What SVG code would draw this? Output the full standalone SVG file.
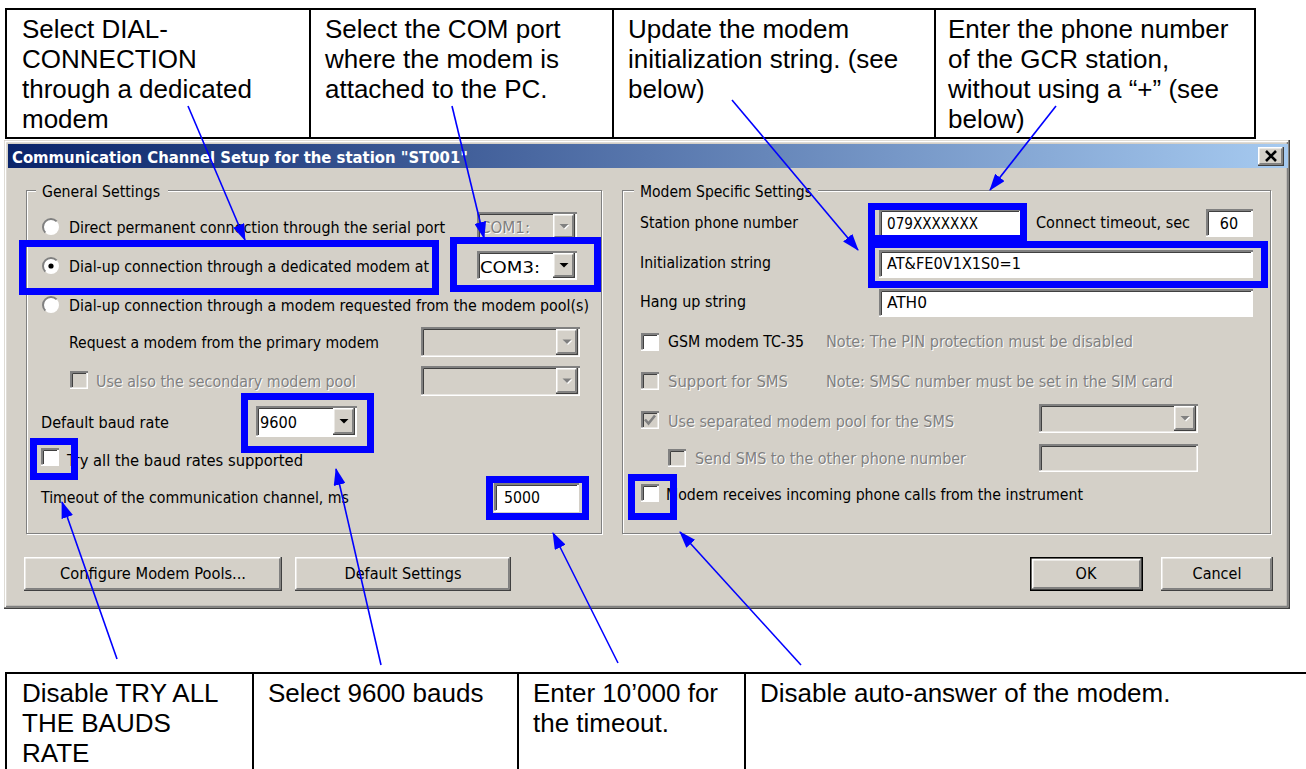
<svg xmlns="http://www.w3.org/2000/svg" width="1306" height="769" viewBox="0 0 1306 769">
  <defs>
    <linearGradient id="titleGrad" x1="0" y1="0" x2="1" y2="0">
      <stop offset="0" stop-color="#0A246A"/>
      <stop offset="1" stop-color="#A6CAF0"/>
    </linearGradient>
    <marker id="ah" markerUnits="userSpaceOnUse" markerWidth="17" markerHeight="12" refX="16" refY="6" orient="auto">
      <path d="M0,0 L17,6 L0,12 z" fill="#0000FF"/>
    </marker>
    <style>
      .ct { font-family: "Liberation Sans", Arial, sans-serif; font-size: 26px; fill: #000; }
      .cell { fill: none; stroke: #000; stroke-width: 2; }
      .ui { font-family: "DejaVu Sans Condensed", "DejaVu Sans", sans-serif; font-size: 16px; fill: #000; }
      .dis { fill: #808080; }
      .emb { fill: #fff; }
      .face { fill: #D4D0C8; }
      .white { fill: #fff; }
      .hl { fill: none; stroke: #fff; stroke-width: 1.5; }
      .sh { fill: none; stroke: #808080; stroke-width: 2; }
      .shb { fill: none; stroke: #808080; stroke-width: 1.5; }
      .dk { fill: none; stroke: #404040; stroke-width: 1.5; }
      .dk1 { fill: none; stroke: #404040; stroke-width: 1; }
      .etchW { fill: none; stroke: #fff; stroke-width: 1; }
      .etchG { fill: none; stroke: #808080; stroke-width: 1; }
      .mark { fill: none; stroke: #0000FF; stroke-width: 7; }
      .conn { fill: none; stroke: #0000FF; stroke-width: 1.6; marker-end: url(#ah); }
    </style>
  </defs>

  <rect x="0" y="0" width="1306" height="769" fill="#fff"/>

  <!-- callouts above the dialog -->
  <g id="note-dial">
    <rect class="cell" x="6" y="9" width="304" height="129"/>
    <text class="ct" x="22" y="37.5">Select DIAL-</text>
    <text class="ct" x="22" y="67.5">CONNECTION</text>
    <text class="ct" x="22" y="97.5">through a dedicated</text>
    <text class="ct" x="22" y="127.5">modem</text>
  </g>
  <g id="note-port">
    <rect class="cell" x="310" y="9" width="303" height="129"/>
    <text class="ct" x="325" y="37.5">Select the COM port</text>
    <text class="ct" x="325" y="67.5">where the modem is</text>
    <text class="ct" x="325" y="97.5">attached to the PC.</text>
  </g>
  <g id="note-init">
    <rect class="cell" x="613" y="9" width="322" height="129"/>
    <text class="ct" x="628" y="37.5">Update the modem</text>
    <text class="ct" x="628" y="67.5">initialization string. (see</text>
    <text class="ct" x="628" y="97.5">below)</text>
  </g>
  <g id="note-phone">
    <rect class="cell" x="935" y="9" width="320" height="129"/>
    <text class="ct" x="948" y="37.5">Enter the phone number</text>
    <text class="ct" x="948" y="67.5">of the GCR station,</text>
    <text class="ct" x="948" y="97.5">without using a “+” (see</text>
    <text class="ct" x="948" y="127.5">below)</text>
  </g>

  <!-- dialog window -->
  <g id="dialog">
    <rect class="face" x="4" y="140" width="1286" height="469"/>
    <path class="hl" d="M5.5,607 V141.5 H1288"/>
    <path class="dk" d="M4,608.25 H1289.25 V140"/>
    <path class="shb" d="M6,606.5 H1287.5 V142"/>

    <!-- title bar -->
    <rect x="8" y="144" width="1280" height="24" fill="url(#titleGrad)"/>
    <text x="12" y="163" font-family="'DejaVu Sans Condensed', 'DejaVu Sans', sans-serif" font-size="16" font-weight="bold" fill="#fff" textLength="456" lengthAdjust="spacingAndGlyphs">Communication Channel Setup for the station "ST001"</text>
    <g id="close-button">
      <rect class="face" x="1258" y="147" width="26" height="19"/>
      <path class="hl" d="M1258.75,165 V147.75 H1283"/>
      <path class="dk" d="M1258,165.25 H1283.25 V147"/>
      <path class="shb" d="M1259.5,163.75 H1281.75 V148.5"/>
      <path d="M1266,151 L1276,161 M1276,151 L1266,161" stroke="#000" stroke-width="2.6"/>
    </g>

    <!-- General Settings group -->
    <g id="general-settings">
      <rect class="etchW" x="27.5" y="191.5" width="575" height="343"/>
      <rect class="etchG" x="26.5" y="190.5" width="575" height="343"/>
      <rect class="face" x="36" y="182" width="132" height="18"/>
      <text class="ui" x="42" y="197" textLength="118" lengthAdjust="spacingAndGlyphs">General Settings</text>

      <!-- radio buttons -->
      <circle cx="51" cy="227" r="8" fill="#fff"/>
      <path d="M45.34,232.66 A8,8 0 0 1 56.66,221.34" class="sh"/>
      <circle cx="51" cy="266" r="8" fill="#fff"/>
      <path d="M45.34,271.66 A8,8 0 0 1 56.66,260.34" class="sh"/>
      <circle cx="51" cy="266" r="2.6" fill="#000"/>
      <circle cx="51" cy="305" r="8" fill="#fff"/>
      <path d="M45.34,310.66 A8,8 0 0 1 56.66,299.34" class="sh"/>

      <text class="ui" x="69" y="233" textLength="376" lengthAdjust="spacingAndGlyphs">Direct permanent connection through the serial port</text>
      <text class="ui" x="69" y="272" textLength="360" lengthAdjust="spacingAndGlyphs">Dial-up connection through a dedicated modem at</text>
      <text class="ui" x="69" y="311" textLength="520" lengthAdjust="spacingAndGlyphs">Dial-up connection through a modem requested from the modem pool(s)</text>
      <text class="ui" x="69" y="348" textLength="310" lengthAdjust="spacingAndGlyphs">Request a modem from the primary modem</text>
      <text class="ui emb" x="97" y="388" textLength="260" lengthAdjust="spacingAndGlyphs">Use also the secondary modem pool</text>
      <text class="ui dis" x="96" y="387" textLength="260" lengthAdjust="spacingAndGlyphs">Use also the secondary modem pool</text>
      <text class="ui" x="41" y="428" textLength="128" lengthAdjust="spacingAndGlyphs">Default baud rate</text>
      <text class="ui" x="67" y="466" textLength="236" lengthAdjust="spacingAndGlyphs">Try all the baud rates supported</text>
      <text class="ui" x="41" y="503" textLength="308" lengthAdjust="spacingAndGlyphs">Timeout of the communication channel, ms</text>

      <!-- COM1 combo (disabled) -->
      <rect class="face" x="477" y="212" width="100" height="29"/>
      <path class="sh" d="M478,241 V213 H577"/>
      <path class="dk1" d="M479.5,239 V214.5 H575"/>
      <path class="hl" d="M477,240.25 H576.25 V214"/>
      <text class="ui emb" x="481" y="234" textLength="50" lengthAdjust="spacingAndGlyphs">COM1:</text>
      <text class="ui dis" x="480" y="233" textLength="50" lengthAdjust="spacingAndGlyphs">COM1:</text>
      <rect class="face" x="553" y="214" width="22" height="25"/>
      <path class="hl" d="M553.75,238 V214.75 H574"/>
      <path class="dk" d="M553,238.25 H574.25 V214"/>
      <path class="shb" d="M554.5,236.75 H572.75 V215.5"/>
      <polygon points="560.5,225 569.5,225 565,229.5" fill="#fff"/>
      <polygon points="559.5,224 568.5,224 564,228.5" fill="#808080"/>

      <!-- COM3 combo -->
      <rect class="white" x="477" y="251" width="100" height="29"/>
      <path class="sh" d="M478,280 V252 H577"/>
      <path class="dk1" d="M479.5,278 V253.5 H575"/>
      <path class="hl" d="M477,279.25 H576.25 V253"/>
      <text class="ui" x="480" y="273" textLength="60" lengthAdjust="spacingAndGlyphs">COM3:</text>
      <rect class="face" x="553" y="253" width="22" height="25"/>
      <path class="hl" d="M553.75,277 V253.75 H574"/>
      <path class="dk" d="M553,277.25 H574.25 V253"/>
      <path class="shb" d="M554.5,275.75 H572.75 V254.5"/>
      <polygon points="559.5,263 568.5,263 564,267.5" fill="#000"/>

      <!-- modem pool combos (disabled) -->
      <rect class="face" x="421" y="327" width="159" height="30"/>
      <path class="sh" d="M422,357 V328 H580"/>
      <path class="dk1" d="M423.5,355 V329.5 H578"/>
      <path class="hl" d="M421,356.25 H579.25 V329"/>
      <rect class="face" x="556" y="329" width="22" height="26"/>
      <path class="hl" d="M556.75,354 V329.75 H577"/>
      <path class="dk" d="M556,354.25 H577.25 V329"/>
      <path class="shb" d="M557.5,352.75 H575.75 V330.5"/>
      <polygon points="563.5,340.5 572.5,340.5 568,345" fill="#fff"/>
      <polygon points="562.5,339.5 571.5,339.5 567,344" fill="#808080"/>

      <rect class="face" x="421" y="366" width="159" height="30"/>
      <path class="sh" d="M422,396 V367 H580"/>
      <path class="dk1" d="M423.5,394 V368.5 H578"/>
      <path class="hl" d="M421,395.25 H579.25 V368"/>
      <rect class="face" x="556" y="368" width="22" height="26"/>
      <path class="hl" d="M556.75,393 V368.75 H577"/>
      <path class="dk" d="M556,393.25 H577.25 V368"/>
      <path class="shb" d="M557.5,391.75 H575.75 V369.5"/>
      <polygon points="563.5,379.5 572.5,379.5 568,384" fill="#fff"/>
      <polygon points="562.5,378.5 571.5,378.5 567,383" fill="#808080"/>

      <!-- secondary pool checkbox (disabled) -->
      <rect class="face" x="70" y="371" width="18" height="18"/>
      <path class="sh" d="M71,389 V372 H88"/>
      <path class="dk1" d="M72.5,387 V373.5 H86"/>
      <path class="hl" d="M70,388.25 H87.25 V373"/>

      <!-- baud rate combo -->
      <rect class="white" x="256" y="406" width="101" height="31"/>
      <path class="sh" d="M257,437 V407 H357"/>
      <path class="dk1" d="M258.5,435 V408.5 H355"/>
      <path class="hl" d="M256,436.25 H356.25 V408"/>
      <text class="ui" x="260" y="428" textLength="37" lengthAdjust="spacingAndGlyphs">9600</text>
      <rect class="face" x="333" y="408" width="22" height="27"/>
      <path class="hl" d="M333.75,434 V408.75 H354"/>
      <path class="dk" d="M333,434.25 H354.25 V408"/>
      <path class="shb" d="M334.5,432.75 H352.75 V409.5"/>
      <polygon points="339.5,419 348.5,419 344,423.5" fill="#000"/>

      <!-- try all baud rates checkbox -->
      <rect class="white" x="41" y="448" width="18" height="18"/>
      <path class="sh" d="M42,466 V449 H59"/>
      <path class="dk1" d="M43.5,464 V450.5 H57"/>
      <path class="hl" d="M41,465.25 H58.25 V450"/>

      <!-- timeout field -->
      <rect class="white" x="494" y="483" width="85" height="29"/>
      <path class="sh" d="M495,512 V484 H579"/>
      <path class="dk1" d="M496.5,510 V485.5 H577"/>
      <path class="hl" d="M494,511.25 H578.25 V485"/>
      <text class="ui" x="504" y="503" textLength="36" lengthAdjust="spacingAndGlyphs">5000</text>
    </g>

    <!-- Modem Specific Settings group -->
    <g id="modem-settings">
      <rect class="etchW" x="623.5" y="191.5" width="648" height="343"/>
      <rect class="etchG" x="622.5" y="190.5" width="648" height="343"/>
      <rect class="face" x="634" y="182" width="184" height="18"/>
      <text class="ui" x="640" y="197" textLength="172" lengthAdjust="spacingAndGlyphs">Modem Specific Settings</text>

      <text class="ui" x="640" y="228" textLength="158" lengthAdjust="spacingAndGlyphs">Station phone number</text>
      <text class="ui" x="1036" y="228" textLength="154" lengthAdjust="spacingAndGlyphs">Connect timeout, sec</text>
      <text class="ui" x="640" y="268" textLength="131" lengthAdjust="spacingAndGlyphs">Initialization string</text>
      <text class="ui" x="640" y="307" textLength="106" lengthAdjust="spacingAndGlyphs">Hang up string</text>

      <!-- phone number field -->
      <rect class="white" x="879" y="209" width="142" height="28"/>
      <path class="sh" d="M880,237 V210 H1021"/>
      <path class="dk1" d="M881.5,235 V211.5 H1019"/>
      <path class="hl" d="M879,236.25 H1020.25 V211"/>
      <text class="ui" x="887" y="229" textLength="91" lengthAdjust="spacingAndGlyphs">079XXXXXXX</text>

      <!-- connect timeout field -->
      <rect class="white" x="1206" y="209" width="47" height="28"/>
      <path class="sh" d="M1207,237 V210 H1253"/>
      <path class="dk1" d="M1208.5,235 V211.5 H1251"/>
      <path class="hl" d="M1206,236.25 H1252.25 V211"/>
      <text class="ui" x="1229" y="229" text-anchor="middle">60</text>

      <!-- initialization string field -->
      <rect class="white" x="879" y="250" width="374" height="28"/>
      <path class="sh" d="M880,278 V251 H1253"/>
      <path class="dk1" d="M881.5,276 V252.5 H1251"/>
      <path class="hl" d="M879,277.25 H1252.25 V252"/>
      <text class="ui" x="887" y="269" textLength="134" lengthAdjust="spacingAndGlyphs">AT&amp;FE0V1X1S0=1</text>

      <!-- hang up string field -->
      <rect class="white" x="879" y="289" width="374" height="28"/>
      <path class="sh" d="M880,317 V290 H1253"/>
      <path class="dk1" d="M881.5,315 V291.5 H1251"/>
      <path class="hl" d="M879,316.25 H1252.25 V291"/>
      <text class="ui" x="887" y="308" textLength="40" lengthAdjust="spacingAndGlyphs">ATH0</text>

      <!-- GSM modem checkbox -->
      <rect class="white" x="641" y="333" width="18" height="18"/>
      <path class="sh" d="M642,351 V334 H659"/>
      <path class="dk1" d="M643.5,349 V335.5 H657"/>
      <path class="hl" d="M641,350.25 H658.25 V335"/>
      <text class="ui" x="668" y="347" textLength="136" lengthAdjust="spacingAndGlyphs">GSM modem TC-35</text>
      <text class="ui emb" x="827" y="348" textLength="307" lengthAdjust="spacingAndGlyphs">Note: The PIN protection must be disabled</text>
      <text class="ui dis" x="826" y="347" textLength="307" lengthAdjust="spacingAndGlyphs">Note: The PIN protection must be disabled</text>

      <!-- SMS support checkbox (disabled) -->
      <rect class="face" x="641" y="372" width="18" height="18"/>
      <path class="sh" d="M642,390 V373 H659"/>
      <path class="dk1" d="M643.5,388 V374.5 H657"/>
      <path class="hl" d="M641,389.25 H658.25 V374"/>
      <text class="ui emb" x="669" y="388" textLength="120" lengthAdjust="spacingAndGlyphs">Support for SMS</text>
      <text class="ui dis" x="668" y="387" textLength="120" lengthAdjust="spacingAndGlyphs">Support for SMS</text>
      <text class="ui emb" x="827" y="388" textLength="347" lengthAdjust="spacingAndGlyphs">Note: SMSC number must be set in the SIM card</text>
      <text class="ui dis" x="826" y="387" textLength="347" lengthAdjust="spacingAndGlyphs">Note: SMSC number must be set in the SIM card</text>

      <!-- separated pool checkbox (disabled, checked) -->
      <rect class="face" x="641" y="411" width="18" height="18"/>
      <path class="sh" d="M642,429 V412 H659"/>
      <path class="dk1" d="M643.5,427 V413.5 H657"/>
      <path class="hl" d="M641,428.25 H658.25 V413"/>
      <path d="M645,419.5 L648.5,423.5 L655,415.5" fill="none" stroke="#808080" stroke-width="2.6"/>
      <text class="ui emb" x="669" y="428" textLength="286" lengthAdjust="spacingAndGlyphs">Use separated modem pool for the SMS</text>
      <text class="ui dis" x="668" y="427" textLength="286" lengthAdjust="spacingAndGlyphs">Use separated modem pool for the SMS</text>

      <!-- SMS pool combo (disabled) -->
      <rect class="face" x="1039" y="404" width="159" height="29"/>
      <path class="sh" d="M1040,433 V405 H1198"/>
      <path class="dk1" d="M1041.5,431 V406.5 H1196"/>
      <path class="hl" d="M1039,432.25 H1197.25 V406"/>
      <rect class="face" x="1174" y="406" width="22" height="25"/>
      <path class="hl" d="M1174.75,430 V406.75 H1195"/>
      <path class="dk" d="M1174,430.25 H1195.25 V406"/>
      <path class="shb" d="M1175.5,428.75 H1193.75 V407.5"/>
      <polygon points="1181.5,417 1190.5,417 1186,421.5" fill="#fff"/>
      <polygon points="1180.5,416 1189.5,416 1185,420.5" fill="#808080"/>

      <!-- other phone number checkbox and field (disabled) -->
      <rect class="face" x="668" y="449" width="18" height="18"/>
      <path class="sh" d="M669,467 V450 H686"/>
      <path class="dk1" d="M670.5,465 V451.5 H684"/>
      <path class="hl" d="M668,466.25 H685.25 V451"/>
      <text class="ui emb" x="696" y="465" textLength="271" lengthAdjust="spacingAndGlyphs">Send SMS to the other phone number</text>
      <text class="ui dis" x="695" y="464" textLength="271" lengthAdjust="spacingAndGlyphs">Send SMS to the other phone number</text>
      <rect class="face" x="1039" y="444" width="159" height="28"/>
      <path class="sh" d="M1040,472 V445 H1198"/>
      <path class="dk1" d="M1041.5,470 V446.5 H1196"/>
      <path class="hl" d="M1039,471.25 H1197.25 V446"/>

      <!-- incoming calls checkbox -->
      <rect class="white" x="641" y="484" width="18" height="18"/>
      <path class="sh" d="M642,502 V485 H659"/>
      <path class="dk1" d="M643.5,500 V486.5 H657"/>
      <path class="hl" d="M641,501.25 H658.25 V486"/>
      <text class="ui" x="666" y="500" textLength="417" lengthAdjust="spacingAndGlyphs">Modem receives incoming phone calls from the instrument</text>
    </g>

    <!-- push buttons -->
    <g id="btn-pools">
      <rect class="face" x="24" y="557" width="258" height="34"/>
      <path class="hl" d="M24.75,590 V557.75 H281"/>
      <path class="dk" d="M24,590.25 H281.25 V557"/>
      <path class="shb" d="M25.5,588.75 H279.75 V558.5"/>
      <text class="ui" x="153" y="579" text-anchor="middle" textLength="186" lengthAdjust="spacingAndGlyphs">Configure Modem Pools...</text>
    </g>
    <g id="btn-defaults">
      <rect class="face" x="295" y="557" width="216" height="34"/>
      <path class="hl" d="M295.75,590 V557.75 H510"/>
      <path class="dk" d="M295,590.25 H510.25 V557"/>
      <path class="shb" d="M296.5,588.75 H508.75 V558.5"/>
      <text class="ui" x="403" y="579" text-anchor="middle" textLength="117" lengthAdjust="spacingAndGlyphs">Default Settings</text>
    </g>
    <g id="btn-ok">
      <rect x="1030.75" y="557.75" width="111.5" height="32.5" fill="#D4D0C8" stroke="#000" stroke-width="1.5"/>
      <path class="hl" d="M1032.75,589 V559.75 H1141"/>
      <path class="dk" d="M1032,589.25 H1141.25 V559"/>
      <path class="shb" d="M1033.5,587.75 H1139.75 V560.5"/>
      <text class="ui" x="1086" y="579" text-anchor="middle">OK</text>
    </g>
    <g id="btn-cancel">
      <rect class="face" x="1161" y="557" width="112" height="34"/>
      <path class="hl" d="M1161.75,590 V557.75 H1272"/>
      <path class="dk" d="M1161,590.25 H1272.25 V557"/>
      <path class="shb" d="M1162.5,588.75 H1270.75 V558.5"/>
      <text class="ui" x="1217" y="579" text-anchor="middle">Cancel</text>
    </g>
  </g>

  <!-- highlighted controls -->
  <g id="highlights">
    <rect class="mark" x="22.5" y="243.5" width="413" height="48"/>
    <rect class="mark" x="453.5" y="240.5" width="144" height="48"/>
    <rect class="mark" x="244.5" y="396.5" width="126" height="53"/>
    <rect class="mark" x="33.5" y="441.5" width="41" height="35"/>
    <rect class="mark" x="489.5" y="479.5" width="96" height="37"/>
    <rect class="mark" x="871.5" y="206.5" width="152" height="32"/>
    <rect class="mark" x="871.5" y="244.5" width="393" height="40"/>
    <rect class="mark" x="631.5" y="477.5" width="42" height="39"/>
  </g>

  <!-- callouts below the dialog -->
  <g id="note-try-all">
    <path class="cell" d="M6,769 V673 H253 V769"/>
    <text class="ct" x="22" y="702">Disable TRY ALL</text>
    <text class="ct" x="22" y="732">THE BAUDS</text>
    <text class="ct" x="22" y="762">RATE</text>
  </g>
  <g id="note-baud">
    <path class="cell" d="M253,673 H518 V769"/>
    <text class="ct" x="268" y="702">Select 9600 bauds</text>
  </g>
  <g id="note-timeout">
    <path class="cell" d="M518,673 H745 V769"/>
    <text class="ct" x="533" y="702">Enter 10’000 for</text>
    <text class="ct" x="533" y="732">the timeout.</text>
  </g>
  <g id="note-answer">
    <path class="cell" d="M745,673 H1306"/>
    <text class="ct" x="760" y="702">Disable auto-answer of the modem.</text>
  </g>

  <!-- connectors -->
  <g id="connectors">
    <path class="conn" d="M188,106 L245,240"/>
    <path class="conn" d="M452,106 L484,238"/>
    <path class="conn" d="M732,100 L858,250"/>
    <path class="conn" d="M1056,106 L990,190"/>
    <path class="conn" d="M117,659 L62,502"/>
    <path class="conn" d="M381,665 L336,469"/>
    <path class="conn" d="M618,663 L553,533"/>
    <path class="conn" d="M801,665 L680,532"/>
  </g>
</svg>
